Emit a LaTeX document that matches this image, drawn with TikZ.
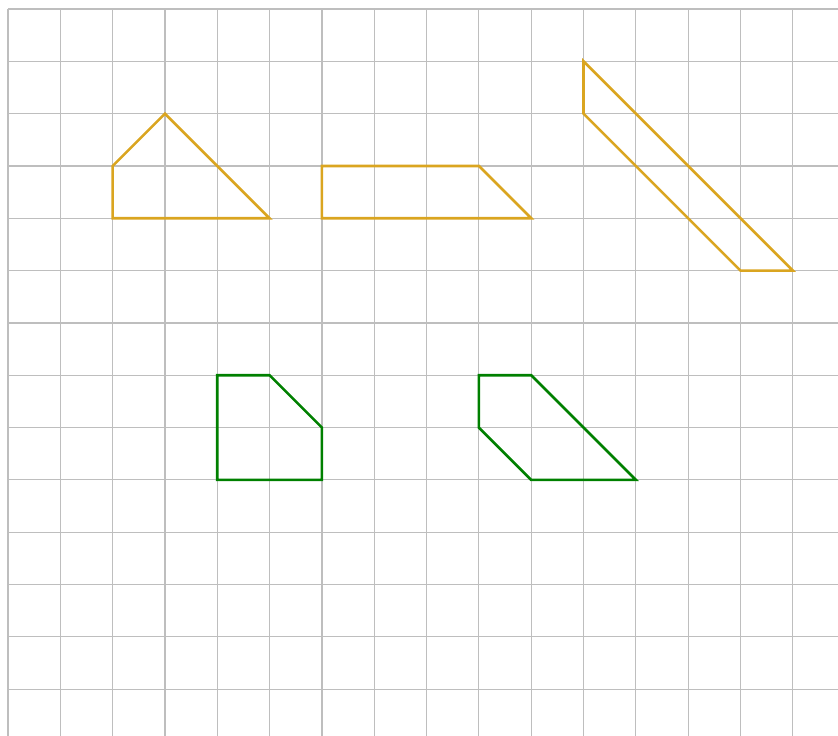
\documentclass[tikz,border=0pt]{standalone}
\begin{document}
\begin{tikzpicture}[x=52.32pt,y=-52.32pt,
  gridline/.style={draw={rgb,255:red,190;green,190;blue,190},line width=1.2pt},
  goldshape/.style={draw={rgb,255:red,218;green,165;blue,32},line width=2.6pt,line join=miter},
  greenshape/.style={draw={rgb,255:red,0;green,128;blue,0},line width=2.6pt,line join=miter}]
\useasboundingbox (-0.1529,-0.172) rectangle (15.864,13.895);
\foreach \i in {0,...,15} \draw[gridline] (\i,0) -- (\i,13.895);
\foreach \j in {0,...,13} \draw[gridline] (0,\j) -- (15.864,\j);
% orange shapes
\draw[goldshape] (2,4) -- (2,3) -- (3,2) -- (5,4) -- cycle;
\draw[goldshape] (6,3) -- (9,3) -- (10,4) -- (6,4) -- cycle;
\draw[goldshape] (11,1) -- (11,2) -- (14,5) -- (15,5) -- cycle;
% green shapes
\draw[greenshape] (4,7) -- (5,7) -- (6,8) -- (6,9) -- (4,9) -- cycle;
\draw[greenshape] (9,7) -- (10,7) -- (12,9) -- (10,9) -- (9,8) -- cycle;
\end{tikzpicture}
\end{document}
